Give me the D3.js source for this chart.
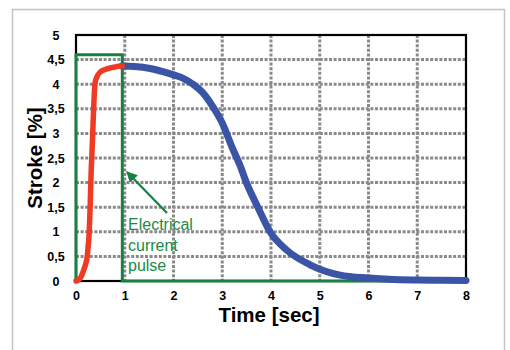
<!DOCTYPE html>
<html>
<head>
<meta charset="utf-8">
<script src="https://cdn.jsdelivr.net/npm/d3@7"></script>
<style>
  html, body { margin: 0; padding: 0; background: #fff; }
  svg { display: block; font-family: "Liberation Sans", Arial, sans-serif; }
</style>
</head>
<body>
<svg id="chart" width="510" height="350"></svg>
<script>
// Actuator stroke response: rise during the current pulse, then relaxation
const xTicks = [0, 1, 2, 3, 4, 5, 6, 7, 8];
const yTicks = [0, 0.5, 1, 1.5, 2, 2.5, 3, 3.5, 4, 4.5, 5];
const yTickLabels = ["0", "0,5", "1", "1,5", "2", "2,5", "3", "3,5", "4", "4,5", "5"];

// Heating phase (red)
const riseTime   = [0, 0.05, 0.1, 0.15, 0.2, 0.22, 0.25, 0.27, 0.29, 0.31, 0.33, 0.35, 0.37, 0.39, 0.43, 0.5, 0.6, 0.7, 0.8, 0.9, 0.95];
const riseStroke = [0, 0.02, 0.08, 0.2, 0.35, 0.43, 0.7, 0.97, 1.5, 2.2, 2.66, 3.2, 3.7, 4.02, 4.15, 4.25, 4.3, 4.33, 4.35, 4.37, 4.37];

// Cooling phase (blue)
const fallTime   = [0.95, 1.2, 1.52, 1.8, 2.0, 2.2, 2.4, 2.6, 2.81, 3.0, 3.2, 3.36, 3.5, 3.74, 3.98, 4.32, 4.8, 5.42, 6.0, 6.5, 7.0, 7.5, 8.0];
const fallStroke = [4.37, 4.36, 4.32, 4.25, 4.19, 4.12, 4.0, 3.83, 3.54, 3.21, 2.72, 2.36, 1.99, 1.48, 1.0, 0.63, 0.33, 0.12, 0.06, 0.03, 0.02, 0.015, 0.01];

// Electrical current pulse outline (green)
const pulseTime  = [0, 0, 0.95, 0.95, 6.55];
const pulseLevel = [0, 4.6, 4.6, 0, 0];

const svg = d3.select("#chart");
const plotL = 76, plotR = 466, plotT = 35, plotB = 281;

const x = d3.scaleLinear().domain([0, 8]).range([plotL, plotR]);
const y = d3.scaleLinear().domain([0, 5]).range([plotB, plotT]);

// outer frame
svg.append("rect")
  .attr("x", 12.5).attr("y", 9.5).attr("width", 492).attr("height", 360)
  .attr("fill", "#fff").attr("stroke", "#c4c4c4").attr("stroke-width", 1.5);

// dotted grid
const grid = svg.append("g").attr("stroke", "#8a8a8a").attr("stroke-width", 3)
  .attr("stroke-dasharray", "3,1.6");
grid.selectAll("line.gx").data(xTicks.filter(d => d > 0 && d < 8)).join("line")
  .attr("class", "gx")
  .attr("x1", d => x(d)).attr("x2", d => x(d)).attr("y1", plotT).attr("y2", plotB);
grid.selectAll("line.gy").data(yTicks.filter(d => d > 0 && d < 5)).join("line")
  .attr("class", "gy")
  .attr("x1", plotL).attr("x2", plotR).attr("y1", d => y(d)).attr("y2", d => y(d));

// plot border
svg.append("rect")
  .attr("x", plotL).attr("y", plotT).attr("width", plotR - plotL).attr("height", plotB - plotT)
  .attr("fill", "none").attr("stroke", "#000").attr("stroke-width", 2.2);

// axes (tick labels only)
const xAxis = d3.axisBottom(x).tickValues(xTicks).tickSize(0).tickPadding(0).tickFormat(d3.format("d"));
svg.append("g").attr("transform", `translate(0,${plotB + 10})`).call(xAxis)
  .call(g => g.select(".domain").remove())
  .call(g => g.selectAll("text").attr("font-size", 12.5).attr("font-weight", "bold")
    .attr("fill", "#000").attr("font-family", "Liberation Sans, Arial, sans-serif"));

const yAxis = d3.axisLeft(y).tickValues(yTicks).tickSize(0).tickPadding(0)
  .tickFormat((d, i) => yTickLabels[i]);
svg.append("g").attr("transform", `translate(56,0)`).call(yAxis)
  .call(g => g.select(".domain").remove())
  .call(g => g.selectAll("text").attr("text-anchor", "middle").attr("font-size", 12.5)
    .attr("font-weight", "bold").attr("fill", "#000")
    .attr("font-family", "Liberation Sans, Arial, sans-serif"));

// axis titles
svg.append("text").attr("x", 269).attr("y", 322).attr("text-anchor", "middle")
  .attr("font-size", 20.5).attr("font-weight", "bold").text("Time [sec]");
svg.append("text").attr("transform", "translate(42,158) rotate(-90)").attr("text-anchor", "middle")
  .attr("font-size", 20.5).attr("font-weight", "bold").text("Stroke [%]");

// pulse outline
const pulseLine = d3.line().x(d => x(d[0])).y(d => y(d[1]));
svg.append("path").datum(d3.zip(pulseTime, pulseLevel))
  .attr("d", pulseLine).attr("fill", "none").attr("stroke", "#188041")
  .attr("stroke-width", 3);

// response curves
const curve = d3.line().x(d => x(d[0])).y(d => y(d[1])).curve(d3.curveMonotoneX);
svg.append("path").datum(d3.zip(fallTime, fallStroke))
  .attr("d", curve).attr("fill", "none").attr("stroke", "#3a55a6")
  .attr("stroke-width", 7).attr("stroke-linecap", "round");
svg.append("path").datum(d3.zip(riseTime, riseStroke))
  .attr("d", curve).attr("fill", "none").attr("stroke", "#ef3b24")
  .attr("stroke-width", 5.5).attr("stroke-linecap", "round");

// annotation with arrow
const defs = svg.append("defs");
defs.append("marker").attr("id", "arrow").attr("viewBox", "0 0 10 10")
  .attr("refX", 9).attr("refY", 5).attr("markerWidth", 5).attr("markerHeight", 5)
  .attr("markerUnits", "strokeWidth").attr("orient", "auto")
  .append("path").attr("d", "M0,0 L10,5 L0,10 Z").attr("fill", "#188041");
svg.append("line").attr("x1", 167).attr("y1", 213).attr("x2", 127).attr("y2", 172)
  .attr("stroke", "#188041").attr("stroke-width", 2.2).attr("marker-end", "url(#arrow)");

const note = svg.append("text").attr("fill", "#1b8a47").attr("font-size", 16);
["Electrical", "current", "pulse"].forEach((t, i) => {
  note.append("tspan").attr("x", 128).attr("y", 230 + i * 20.5).text(t);
});
</script>
</body>
</html>
